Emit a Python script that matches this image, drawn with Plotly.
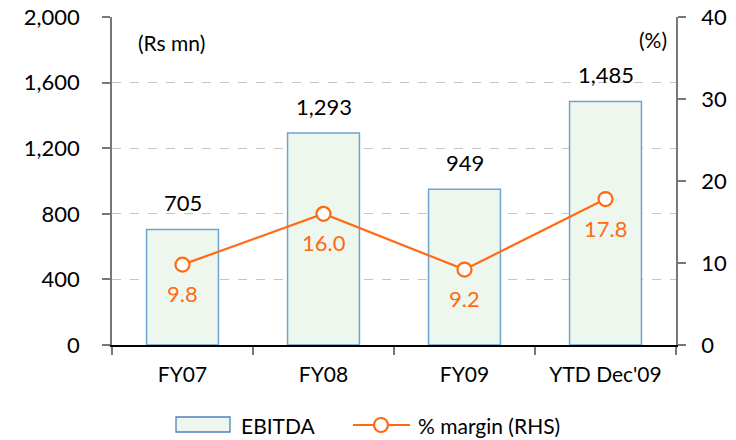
import plotly.graph_objects as go

categories = ["FY07", "FY08", "FY09", "YTD Dec'09"]
ebitda = [705, 1293, 949, 1485]
margin = [9.8, 16.0, 9.2, 17.8]
ebitda_labels = ["705", "1,293", "949", "1,485"]
margin_labels = ["9.8", "16.0", "9.2", "17.8"]
left_ticks = [0, 400, 800, 1200, 1600, 2000]
right_ticks = [0, 10, 20, 30, 40]

FONT = "Lato"
ORANGE = "#FF6A13"
BAR_FILL = "#EEF7EE"
BAR_LINE = "#6FA3CF"

# plot-area pixel geometry (for legend placement in paper coords)
L, R, T, B = 112, 676, 17, 345
def px(x):
    return (x - L) / (R - L)
def py(y):
    return (B - y) / (B - T)

fig = go.Figure()
fig.add_trace(go.Bar(
    x=categories, y=ebitda, name="EBITDA",
    marker=dict(color=BAR_FILL, line=dict(color=BAR_LINE, width=1.5)),
    showlegend=False,
))
fig.add_trace(go.Scatter(
    x=categories, y=margin, name="% margin (RHS)", yaxis="y2",
    mode="lines+markers",
    line=dict(color=ORANGE, width=2.2),
    marker=dict(size=14, color="white", line=dict(color=ORANGE, width=2.2)),
    showlegend=False, cliponaxis=False,
))

annotations = []
for c, v, t in zip(categories, ebitda, ebitda_labels):
    annotations.append(dict(x=c, y=v, xref="x", yref="y", text=t, showarrow=False,
                            yanchor="bottom", yshift=11,
                            font=dict(family=FONT, size=22, color="black")))
for c, v, t in zip(categories, margin, margin_labels):
    annotations.append(dict(x=c, y=v, xref="x", yref="y2", text=t, showarrow=False,
                            yanchor="middle", yshift=-29,
                            font=dict(family=FONT, size=22, color=ORANGE)))
annotations += [
    dict(text="(Rs mn)", xref="paper", yref="paper", x=px(136), y=py(43),
         xanchor="left", yanchor="middle", showarrow=False,
         font=dict(family=FONT, size=21, color="black")),
    dict(text="(%)", xref="paper", yref="paper", x=px(669), y=py(40),
         xanchor="right", yanchor="middle", showarrow=False,
         font=dict(family=FONT, size=21, color="black")),
    dict(text="EBITDA", xref="paper", yref="paper", x=px(239), y=py(425),
         xanchor="left", yanchor="middle", showarrow=False,
         font=dict(family=FONT, size=21, color="black")),
    dict(text="% margin (RHS)", xref="paper", yref="paper", x=px(416), y=py(425),
         xanchor="left", yanchor="middle", showarrow=False,
         font=dict(family=FONT, size=21, color="black")),
]

shapes = [
    dict(type="rect", xref="paper", yref="paper", x0=px(176), x1=px(230),
         y0=py(432), y1=py(417), fillcolor=BAR_FILL,
         line=dict(color="#4F81BD", width=1.3)),
    dict(type="line", xref="paper", yref="paper", x0=px(353), x1=px(410),
         y0=py(425), y1=py(425), line=dict(color=ORANGE, width=2.2)),
    dict(type="circle", xref="paper", yref="paper", xsizemode="pixel", ysizemode="pixel",
         xanchor=px(381), yanchor=py(425), x0=-7, x1=7, y0=-7, y1=7,
         fillcolor="white", line=dict(color=ORANGE, width=2.2)),
]

fig.update_layout(
    width=736, height=440,
    margin=dict(l=L, r=736 - R, t=T, b=440 - B, autoexpand=False),
    paper_bgcolor="white", plot_bgcolor="white",
    font=dict(family=FONT, size=21, color="black"),
    bargap=0.49,
    showlegend=False,
    xaxis=dict(
        type="category", showline=True, linecolor="black", linewidth=1.5,
        ticks="outside", tickson="boundaries", ticklen=8, tickcolor="#777", tickwidth=1.5,
        showgrid=False, tickfont=dict(family=FONT, size=21),
        ticklabelstandoff=10,
    ),
    yaxis=dict(
        range=[0, 2000], tickvals=left_ticks, tickformat=",",
        showline=True, linecolor="#777", linewidth=1.5,
        ticks="outside", ticklen=8, tickcolor="#777", tickwidth=1.5,
        showgrid=True, gridcolor="#C4C4C4", griddash="dash", gridwidth=1,
        zeroline=False, tickfont=dict(family=FONT, size=22),
        ticklabelstandoff=18,
    ),
    yaxis2=dict(
        range=[0, 40], tickvals=right_ticks, overlaying="y", side="right",
        showline=True, linecolor="#777", linewidth=1.5,
        ticks="outside", ticklen=8, tickcolor="#777", tickwidth=1.5,
        showgrid=False, zeroline=False, tickfont=dict(family=FONT, size=22),
        ticklabelstandoff=11,
    ),
    annotations=annotations,
    shapes=shapes,
)

fig.write_html("out.html", config={"displayModeBar": False},
               post_script="document.body.style.margin='0';document.body.style.overflow='hidden';")
